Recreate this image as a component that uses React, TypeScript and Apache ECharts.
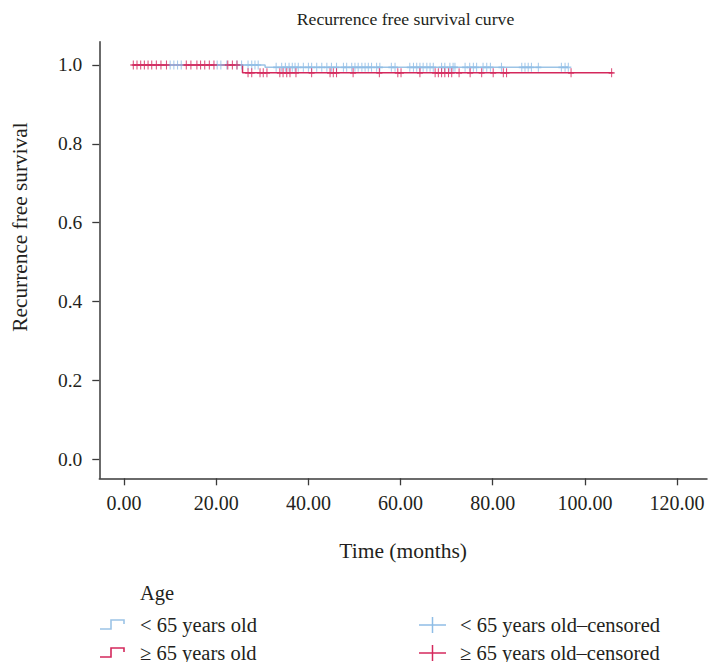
import React, { useEffect, useRef } from "react";
import * as echarts from "echarts";

const xTickValues = [0, 20, 40, 60, 80, 100, 120];
const yTickValues = [0, 0.2, 0.4, 0.6, 0.8, 1.0];

const groupNames = ["< 65 years old", "≥ 65 years old"];
const censoredNames = ["< 65 years old–censored", "≥ 65 years old–censored"];

// < 65 years old
const youngStart = 1.8;
const youngEventTimes = [30.6];
const youngSurvival = [1.0, 0.994];
const youngEnd = 96.4;
const youngCensored = [
  10.0, 10.8, 11.6, 12.4, 20.2, 21.0, 22.3, 24.5, 25.5, 26.9, 27.7, 28.4, 29.1,
  33.0, 34.2, 35.0, 35.8, 36.5, 37.1, 37.8, 38.9, 40.0, 40.7, 41.8, 42.9, 44.0,
  45.0, 46.1, 47.6, 48.3, 49.4, 50.1, 50.8, 51.6, 52.3, 53.0, 53.7, 54.8, 55.5,
  58.0, 58.8, 62.0, 62.8, 63.5, 64.2, 64.9, 65.7, 66.4, 67.1, 68.9, 69.6, 70.7,
  71.4, 71.8, 74.0, 75.0, 75.8, 76.5, 77.9, 78.7, 79.5, 81.9, 86.3, 87.0, 87.7,
  88.4, 89.9, 94.9, 95.7, 96.4,
];

// ≥ 65 years old
const oldStart = 1.8;
const oldEventTimes = [25.7];
const oldSurvival = [1.0, 0.98];
const oldEnd = 106.0;
const oldCensored = [
  2.0, 2.8, 3.6, 4.4, 5.2, 6.0, 7.0, 8.0, 9.2, 13.5, 14.5, 15.8, 16.6, 17.5,
  18.5, 19.5, 22.5, 23.5, 24.5, 26.9, 27.7, 29.5, 30.2, 31.0, 33.8, 34.5, 35.3,
  36.0, 37.3, 40.7, 44.7, 45.4, 46.1, 49.7, 55.4, 59.4, 60.1, 64.2, 67.5, 68.2,
  68.9, 69.6, 70.4, 71.1, 72.7, 75.1, 77.6, 80.1, 82.3, 83.0, 97.0, 105.8,
];

const BLUE = "#8fbde6";
const BLUE_LINE = "#9cc4e6";
const RED = "#d4285c";
const TEXT = "#231f20";
const AXIS = "#3a3a3a";
const FONT = "'Liberation Serif', 'Times New Roman', serif";

function stepPoints(start: number, events: number[], surv: number[], end: number) {
  const pts: number[][] = [[start, surv[0]]];
  events.forEach((t, i) => {
    pts.push([t, surv[i]]);
    pts.push([t, surv[i + 1]]);
  });
  pts.push([end, surv[surv.length - 1]]);
  return pts;
}

function survivalAt(t: number, events: number[], surv: number[]) {
  let s = surv[0];
  events.forEach((e, i) => {
    if (t >= e) s = surv[i + 1];
  });
  return s;
}

const PLUS = "path://M5,0L5,10M0,5L10,5";

export default function App() {
  const ref = useRef<HTMLDivElement>(null);
  useEffect(() => {
    if (!ref.current) return;
    const chart = echarts.init(ref.current, undefined, { renderer: "svg" });
    const rowY = [625, 653];
    const colors = [BLUE_LINE, RED];
    const markColors = [BLUE, RED];
    const legendGraphics: any[] = [
      {
        type: "text",
        x: 140,
        y: 593,
        style: { text: "Age", font: `20.5px ${FONT}`, fill: TEXT, textVerticalAlign: "middle" },
      },
    ];
    rowY.forEach((y, i) => {
      legendGraphics.push({
        type: "polyline",
        shape: { points: [[100, y + 4], [111, y + 4], [111, y - 5], [124, y - 5], [124, y - 1]] },
        style: { stroke: colors[i], lineWidth: 1.6, fill: "none" },
      });
      legendGraphics.push({
        type: "text",
        x: 140,
        y: y,
        style: { text: groupNames[i], font: `20.5px ${FONT}`, fill: TEXT, textVerticalAlign: "middle" },
      });
      legendGraphics.push({
        type: "line",
        shape: { x1: 419, y1: y, x2: 446, y2: y },
        style: { stroke: markColors[i], lineWidth: 1.5 },
      });
      legendGraphics.push({
        type: "line",
        shape: { x1: 432.5, y1: y - 8, x2: 432.5, y2: y + 8 },
        style: { stroke: markColors[i], lineWidth: 1.5 },
      });
      legendGraphics.push({
        type: "text",
        x: 460,
        y: y,
        style: { text: censoredNames[i], font: `20.5px ${FONT}`, fill: TEXT, textVerticalAlign: "middle" },
      });
    });
    legendGraphics.push({
      type: "text",
      x: 20,
      y: 227,
      rotation: Math.PI / 2,
      style: {
        text: "Recurrence free survival",
        font: `21.3px ${FONT}`,
        fill: TEXT,
        textAlign: "center",
        textVerticalAlign: "middle",
      },
    });

    chart.setOption({
      animation: false,
      backgroundColor: "#ffffff",
      title: {
        text: "Recurrence free survival curve",
        left: 400.5,
        top: 5,
        textAlign: "center",
        textStyle: { fontFamily: FONT, fontSize: 17.7, fontWeight: "normal", color: TEXT },
      },
      grid: { left: 99.3, top: 41.7, right: 2, bottom: 183.7, containLabel: false },
      xAxis: {
        type: "value",
        min: -5.38,
        max: 126.5,
        name: "Time (months)",
        nameLocation: "middle",
        nameGap: 62,
        nameTextStyle: { fontFamily: FONT, fontSize: 21.5, color: TEXT },
        axisLine: { show: true, onZero: false, lineStyle: { color: AXIS, width: 1.5 } },
        axisTick: { show: true, length: 7, customValues: xTickValues, lineStyle: { color: AXIS, width: 1.3 } },
        axisLabel: {
          customValues: xTickValues,
          formatter: (v: number) => v.toFixed(2),
          fontFamily: FONT,
          fontSize: 20,
          color: TEXT,
          margin: 15,
        },
        splitLine: { show: false },
      },
      yAxis: {
        type: "value",
        min: -0.048,
        max: 1.059,
        axisLine: { show: true, onZero: false, lineStyle: { color: AXIS, width: 1.5 } },
        axisTick: { show: true, length: 7, customValues: yTickValues, lineStyle: { color: AXIS, width: 1.3 } },
        axisLabel: {
          customValues: yTickValues,
          formatter: (v: number) => v.toFixed(1),
          fontFamily: FONT,
          fontSize: 19.5,
          color: TEXT,
          margin: 17,
        },
        splitLine: { show: false },
      },
      graphic: legendGraphics,
      series: [
        {
          name: groupNames[0],
          type: "line",
          data: stepPoints(youngStart, youngEventTimes, youngSurvival, youngEnd),
          showSymbol: false,
          lineStyle: { color: BLUE_LINE, width: 1.5 },
          z: 2,
        },
        {
          name: groupNames[1],
          type: "line",
          data: stepPoints(oldStart, oldEventTimes, oldSurvival, oldEnd),
          showSymbol: false,
          lineStyle: { color: RED, width: 1.5 },
          z: 3,
        },
        {
          name: censoredNames[0],
          type: "scatter",
          data: youngCensored.map((t) => [t, survivalAt(t, youngEventTimes, youngSurvival)]),
          symbol: PLUS,
          symbolSize: [6, 9],
          itemStyle: { color: "none", borderColor: BLUE, borderWidth: 1.3 },
          z: 4,
        },
        {
          name: censoredNames[1],
          type: "scatter",
          data: oldCensored.map((t) => [t, survivalAt(t, oldEventTimes, oldSurvival)]),
          symbol: PLUS,
          symbolSize: [6, 9],
          itemStyle: { color: "none", borderColor: RED, borderWidth: 1.3 },
          z: 5,
        },
      ],
    });
    return () => chart.dispose();
  }, []);
  return (
    <div
      ref={ref}
      style={{ position: "fixed", left: 0, top: 0, width: 709, height: 662, background: "#fff" }}
    />
  );
}
